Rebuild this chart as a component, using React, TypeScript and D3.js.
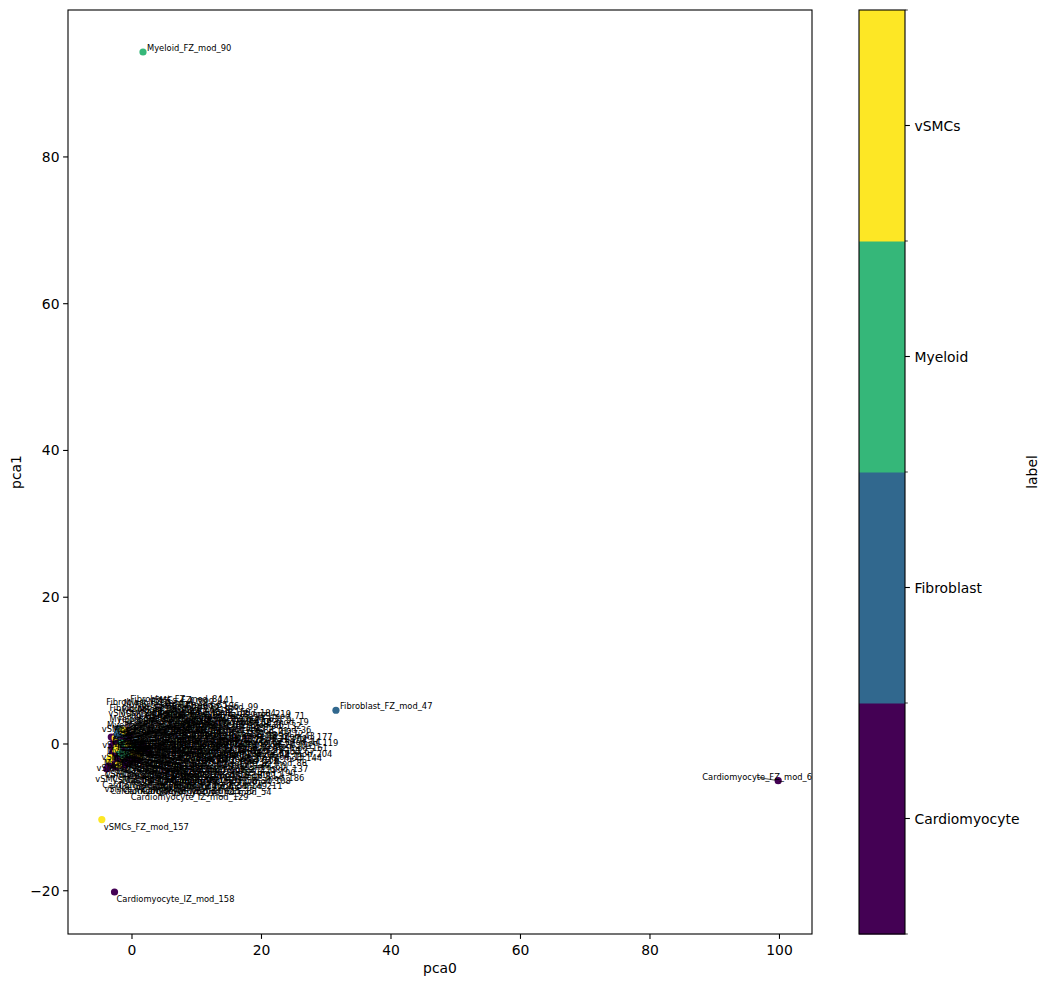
import React, { useMemo } from 'react';
import * as d3 from 'd3';

// ---------- data ----------
const categories = ['Cardiomyocyte', 'Fibroblast', 'Myeloid', 'vSMCs'];
const categoryColors = ['#440154', '#31688e', '#35b779', '#fde725'];

const moduleNames = [
  'Cardiomyocyte_FZ_mod_2', 'Cardiomyocyte_FZ_mod_5', 'Cardiomyocyte_FZ_mod_9', 'Cardiomyocyte_FZ_mod_12',
  'Cardiomyocyte_FZ_mod_15', 'Cardiomyocyte_FZ_mod_18', 'Cardiomyocyte_FZ_mod_21', 'Cardiomyocyte_FZ_mod_24',
  'Cardiomyocyte_FZ_mod_27', 'Cardiomyocyte_FZ_mod_30', 'Cardiomyocyte_FZ_mod_33', 'Cardiomyocyte_FZ_mod_36',
  'Cardiomyocyte_FZ_mod_41', 'Cardiomyocyte_FZ_mod_44', 'Cardiomyocyte_FZ_mod_50', 'Cardiomyocyte_FZ_mod_54',
  'Cardiomyocyte_FZ_mod_58', 'Cardiomyocyte_FZ_mod_63', 'Cardiomyocyte_FZ_mod_67', 'Cardiomyocyte_FZ_mod_71',
  'Cardiomyocyte_FZ_mod_77', 'Cardiomyocyte_FZ_mod_82', 'Cardiomyocyte_FZ_mod_86', 'Cardiomyocyte_FZ_mod_93',
  'Cardiomyocyte_FZ_mod_97', 'Cardiomyocyte_FZ_mod_101', 'Cardiomyocyte_FZ_mod_108', 'Cardiomyocyte_FZ_mod_115',
  'Cardiomyocyte_FZ_mod_119', 'Cardiomyocyte_FZ_mod_126', 'Cardiomyocyte_IZ_mod_3', 'Cardiomyocyte_IZ_mod_11',
  'Cardiomyocyte_IZ_mod_19', 'Cardiomyocyte_IZ_mod_26', 'Cardiomyocyte_IZ_mod_35', 'Cardiomyocyte_IZ_mod_43',
  'Cardiomyocyte_IZ_mod_52', 'Cardiomyocyte_IZ_mod_60', 'Cardiomyocyte_IZ_mod_68', 'Cardiomyocyte_IZ_mod_79',
  'Cardiomyocyte_IZ_mod_88', 'Cardiomyocyte_IZ_mod_95', 'Cardiomyocyte_IZ_mod_104', 'Cardiomyocyte_IZ_mod_112',
  'Cardiomyocyte_IZ_mod_129', 'Cardiomyocyte_IZ_mod_137', 'Cardiomyocyte_IZ_mod_146', 'Cardiomyocyte_IZ_mod_153',
  'Cardiomyocyte_IZ_mod_166', 'Cardiomyocyte_IZ_mod_177', 'Fibroblast_FZ_mod_4', 'Fibroblast_FZ_mod_13',
  'Fibroblast_FZ_mod_22', 'Fibroblast_FZ_mod_31', 'Fibroblast_FZ_mod_40', 'Fibroblast_FZ_mod_46',
  'Fibroblast_FZ_mod_55', 'Fibroblast_FZ_mod_62', 'Fibroblast_FZ_mod_73', 'Fibroblast_FZ_mod_84',
  'Fibroblast_FZ_mod_99', 'Fibroblast_FZ_mod_105', 'Fibroblast_FZ_mod_122', 'Fibroblast_FZ_mod_140',
  'Myeloid_FZ_mod_7', 'Myeloid_FZ_mod_16', 'Myeloid_FZ_mod_29', 'Myeloid_FZ_mod_38',
  'Myeloid_FZ_mod_49', 'Myeloid_FZ_mod_61', 'Myeloid_FZ_mod_75', 'Myeloid_FZ_mod_92',
  'Myeloid_FZ_mod_113', 'Myeloid_FZ_mod_131', 'vSMCs_FZ_mod_1', 'vSMCs_FZ_mod_8',
  'vSMCs_FZ_mod_17', 'vSMCs_FZ_mod_28', 'vSMCs_FZ_mod_39', 'vSMCs_FZ_mod_53',
  'vSMCs_FZ_mod_74', 'vSMCs_FZ_mod_85', 'vSMCs_FZ_mod_98', 'vSMCs_FZ_mod_110',
  'vSMCs_FZ_mod_133', 'vSMCs_FZ_mod_220',
  'Cardiomyocyte_FZ_mod_132', 'Cardiomyocyte_FZ_mod_138', 'Cardiomyocyte_FZ_mod_144', 'Cardiomyocyte_FZ_mod_149',
  'Cardiomyocyte_FZ_mod_155', 'Cardiomyocyte_FZ_mod_161', 'Cardiomyocyte_FZ_mod_168', 'Cardiomyocyte_FZ_mod_172',
  'Cardiomyocyte_FZ_mod_180', 'Cardiomyocyte_FZ_mod_186', 'Cardiomyocyte_FZ_mod_193', 'Cardiomyocyte_FZ_mod_199',
  'Cardiomyocyte_FZ_mod_204', 'Cardiomyocyte_FZ_mod_211', 'Cardiomyocyte_IZ_mod_184', 'Cardiomyocyte_IZ_mod_190',
  'Cardiomyocyte_IZ_mod_197', 'Cardiomyocyte_IZ_mod_203', 'Cardiomyocyte_IZ_mod_209', 'Cardiomyocyte_IZ_mod_215',
  'Fibroblast_FZ_mod_148', 'Fibroblast_FZ_mod_159', 'Fibroblast_FZ_mod_171', 'Fibroblast_FZ_mod_182',
  'Fibroblast_FZ_mod_195', 'Myeloid_FZ_mod_142', 'Myeloid_FZ_mod_151', 'Myeloid_FZ_mod_163',
  'Myeloid_FZ_mod_175', 'Myeloid_FZ_mod_188', 'vSMCs_FZ_mod_141', 'vSMCs_FZ_mod_150',
  'vSMCs_FZ_mod_162', 'vSMCs_FZ_mod_174', 'vSMCs_FZ_mod_187', 'vSMCs_FZ_mod_196',
  'vSMCs_FZ_mod_205', 'vSMCs_FZ_mod_212', 'Cardiomyocyte_IZ_mod_219', 'Myeloid_FZ_mod_201',
  'Myeloid_FZ_mod_90', 'Fibroblast_FZ_mod_47', 'Cardiomyocyte_FZ_mod_6', 'vSMCs_FZ_mod_157',
  'Cardiomyocyte_IZ_mod_158',
];

const pca0 = [
  -1.2, -0.8, -1.6, -2.1, -0.4, -1.9, -2.6, -1.0,
  0.3, -1.4, -3.0, -0.2, -1.7, 0.8, -2.3, -1.1,
  -0.6, -2.8, 1.4, -1.3, -3.5, -0.9, -2.0, 0.1,
  -3.2, -1.5, -0.3, -2.4, 2.1, -1.8, -1.1, -2.2,
  -0.7, -3.9, -1.6, 0.5, -2.7, -0.5, -1.4, -3.4,
  1.0, -2.0, -0.1, -1.2, -2.5, 0.4, -1.9, -0.8,
  -2.9, 1.7, -1.8, -1.6, -2.0, -1.5, -1.9, -1.2,
  -2.2, -1.7, -0.9, -2.1, -1.3, -1.0, 0.2, -1.4,
  -1.3, -1.7, -0.6, -1.6, -2.3, -1.0, -2.2, -0.4,
  -1.5, 0.0, -1.5, -0.8, -3.5, -1.9, -1.1, -2.5,
  -0.7, -1.6, -2.6, -0.2, -1.3, -0.9,
  -0.5, -2.4, 0.6, -1.0, -2.9, 1.2, -1.6, -0.3,
  -2.2, 0.9, -1.4, -3.1, 2.6, -0.7, -1.8, -0.2,
  -2.6, 0.7, -1.1, -3.6, -2.3, -1.1, -0.5, -1.9,
  0.5, -1.2, -2.0, 0.3, -0.9, -1.7, -1.4, -3.3,
  -0.6, -2.1, 0.2, -1.0, -2.4, 1.3, -0.4, -1.5,
  1.7, 31.5, 99.8, -4.66, -2.7,
];

const pca1 = [
  -0.4, -1.1, 0.3, -0.9, -0.6, -1.6, -0.2, 0.6,
  -0.9, -2.1, -1.2, 0.1, -0.1, -0.3, -2.6, -2.9,
  -1.8, 0.4, -1.0, 1.1, -2.4, -0.2, 0.9, -1.5,
  0.95, -1.2, -2.4, -1.4, -0.6, -0.7, -0.8, 0.2,
  0.4, -3.4, -2.6, -0.1, -1.8, -1.3, 0.0, -2.9,
  -1.7, -0.4, -0.3, -1.6, -3.1, -2.0, 0.6, -0.5,
  -0.6, -0.2, 1.8, 1.2, 0.5, 0.2, -0.3, -1.9,
  1.5, 0.9, 0.2, 2.1, 1.6, -0.9, -0.5, 0.7,
  0.4, -0.6, -0.2, 1.5, -0.8, -0.3, -1.2, -0.9,
  -0.9, -1.1, 1.2, -0.1, -2.2, -1.5, 0.9, -1.0,
  -0.8, -1.9, 0.8, -1.6, -0.1, 0.6,
  0.8, 0.1, -1.3, -2.3, -1.6, -0.7, 0.6, -0.2,
  -2.0, -2.2, -0.5, -0.3, -1.2, -2.7, 1.0, -1.9,
  -2.2, -0.6, 0.3, -3.0, 1.2, 1.3, -0.7, 1.4,
  0.3, 0.0, -1.0, -0.4, -1.4, 0.2, 1.9, -1.9,
  0.0, -2.8, -1.2, 1.7, -0.5, -1.5, 1.2, -1.5,
  94.3, 4.6, -5.0, -10.3, -20.17,
];

const xTicks = [0, 20, 40, 60, 80, 100];
const yTicks = [-20, 0, 20, 40, 60, 80];

// ---------- layout constants ----------
const W = 1049;
const H = 987;
const L = 68, R = 812, T = 10, B = 934;
const CB_L = 859, CB_R = 905;
const FONT = '"DejaVu Sans", "Liberation Sans", sans-serif';
const TICK_FS = 13.9;
const LABEL_FS = 8.33;

function measureWidths(texts: string[], size: number): number[] {
  const canvas = document.createElement('canvas');
  const ctx = canvas.getContext('2d');
  if (!ctx) return texts.map((t) => t.length * size * 0.6);
  ctx.font = `${size}px "DejaVu Sans"`;
  return texts.map((t) => ctx.measureText(t).width);
}

export default function App() {
  const pad = (lo: number, hi: number) => {
    const m = (hi - lo) * 0.05;
    return [lo - m, hi + m];
  };
  const x = d3.scaleLinear().domain(pad(d3.min(pca0)!, d3.max(pca0)!)).range([L, R]);
  const y = d3.scaleLinear().domain(pad(d3.min(pca1)!, d3.max(pca1)!)).range([B, T]);

  const points = moduleNames.map((name, i) => {
    const cat = categories.findIndex((c) => name.startsWith(c + '_'));
    return { name, cat, px: x(pca0[i]), py: y(pca1[i]) };
  });

  const labels = useMemo(() => {
    const widths = measureWidths(moduleNames, LABEL_FS);
    const cx0 = d3.median(points, (p) => p.px)!;
    const cy0 = d3.median(points, (p) => p.py)!;
    const kx = 2.5;
    const nodes = points.map((p, i) => {
      const dx = p.px - cx0;
      const dy = p.py - cy0;
      const below = dy > 0 && Math.abs(dy) > Math.abs(dx) * 0.8;
      const w = widths[i];
      const baseline = below ? p.py + 10 : p.py - 1;
      const acx = p.px + (below ? 2 : 4) + w / 2;
      const acy = baseline - 2.4;
      return { i, w, minLeft: p.px - 14, x: acx / kx, y: acy, ax: acx / kx, ay: acy } as any;
    });
    const leftBound = () => {
      for (const n of nodes) {
        const left = n.x * kx - n.w / 2;
        if (left < n.minLeft) n.vx += ((n.minLeft - left) / kx) * 0.6;
      }
    };
    const sim = d3
      .forceSimulation(nodes)
      .force('x', d3.forceX((d: any) => d.ax).strength(0.05))
      .force('y', d3.forceY((d: any) => d.ay).strength(0.05))
      .force('c', d3.forceCollide(3.1).strength(0.7).iterations(2))
      .force('lb', leftBound as any)
      .stop();
    for (let k = 0; k < 300; k++) sim.tick();
    return nodes.map((n: any) => {
      const w = n.w;
      let left = n.x * kx - w / 2;
      let baseline = n.y + 2.4;
      const moved0 = Math.hypot((n.x - n.ax) * kx, n.y - n.ay);
      left = Math.max(L, Math.min(R - w, left));
      baseline = Math.max(T + 7, Math.min(B - 2, baseline));
      const moved = Math.hypot(left + w / 2 - n.ax * kx, baseline - 2.4 - n.ay);
      return { left, baseline, w, moved: Math.max(moved, moved0) };
    });
  }, []);

  // connector line from label to point (only for labels that were displaced)
  const connectors = points.map((p, i) => {
    const lb = labels[i];
    if (lb.moved < 3) return null;
    const bx0 = lb.left, bx1 = lb.left + lb.w;
    const by0 = lb.baseline - 6.5, by1 = lb.baseline + 1.8;
    const cx = (bx0 + bx1) / 2, cy = (by0 + by1) / 2;
    const inside = p.px >= bx0 && p.px <= bx1 && p.py >= by0 && p.py <= by1;
    const dx = p.px - cx, dy = p.py - cy;
    let sx = cx, sy = cy;
    if (!inside) {
      let t = 1;
      if (dx !== 0) t = Math.min(t, ((dx > 0 ? bx1 : bx0) - cx) / dx);
      if (dy !== 0) t = Math.min(t, ((dy > 0 ? by1 : by0) - cy) / dy);
      sx = cx + dx * t;
      sy = cy + dy * t;
    }
    const len = Math.hypot(p.px - sx, p.py - sy);
    if (len < 4) return null;
    const shrink = 2.8 / len;
    return { x1: sx, y1: sy, x2: p.px - (p.px - sx) * shrink, y2: p.py - (p.py - sy) * shrink };
  });

  const segH = (B - T) / categories.length;

  return (
    <svg
      width={W}
      height={H}
      style={{ position: 'absolute', left: 0, top: 0, background: '#fff' }}
      fontFamily={FONT}
    >
      <rect x={0} y={0} width={W} height={H} fill="#fff" />
      {/* points */}
      <g>
        {points.map((p, i) => (
          <circle key={i} cx={p.px} cy={p.py} r={3.6} fill={categoryColors[p.cat]} />
        ))}
      </g>
      {/* connectors + labels */}
      <g>
        {points.map((p, i) => {
          const c = connectors[i];
          const lb = labels[i];
          return (
            <g key={i}>
              {c && (
                <line x1={c.x1} y1={c.y1} x2={c.x2} y2={c.y2} stroke="#000" strokeWidth={0.7} />
              )}
              <text x={lb.left} y={lb.baseline} fontSize={LABEL_FS} fill="#000">
                {p.name}
              </text>
            </g>
          );
        })}
      </g>
      {/* frame */}
      <rect x={L} y={T} width={R - L} height={B - T} fill="none" stroke="#000" strokeWidth={1.1} />
      {/* x ticks */}
      {xTicks.map((t) => (
        <g key={'x' + t} transform={`translate(${x(t)},${B})`}>
          <line y1={0} y2={4.9} stroke="#000" strokeWidth={1.1} />
          <text y={21} textAnchor="middle" fontSize={TICK_FS} fill="#000">
            {t < 0 ? '\u2212' + Math.abs(t) : t}
          </text>
        </g>
      ))}
      {/* y ticks */}
      {yTicks.map((t) => (
        <g key={'y' + t} transform={`translate(${L},${y(t)})`}>
          <line x1={0} x2={-4.9} stroke="#000" strokeWidth={1.1} />
          <text x={-8.5} dy="0.36em" textAnchor="end" fontSize={TICK_FS} fill="#000">
            {t < 0 ? '\u2212' + Math.abs(t) : t}
          </text>
        </g>
      ))}
      <text x={(L + R) / 2} y={973} textAnchor="middle" fontSize={TICK_FS} fill="#000">
        pca0
      </text>
      <text transform={`translate(21,${(T + B) / 2}) rotate(-90)`} textAnchor="middle" fontSize={TICK_FS} fill="#000">
        pca1
      </text>
      {/* colorbar */}
      {categories.map((c, i) => (
        <rect
          key={c}
          x={CB_L}
          y={B - (i + 1) * segH}
          width={CB_R - CB_L}
          height={segH + 0.5}
          fill={categoryColors[i]}
        />
      ))}
      <rect x={CB_L} y={T} width={CB_R - CB_L} height={B - T} fill="none" stroke="#000" strokeWidth={1.1} />
      {categories.map((c, i) => {
        const yy = B - (i + 0.5) * segH;
        return (
          <g key={'cb' + c}>
            <line x1={CB_R} x2={CB_R + 4.9} y1={yy} y2={yy} stroke="#000" strokeWidth={1.1} />
            <text x={CB_R + 9.5} y={yy} dy="0.36em" fontSize={TICK_FS} fill="#000">
              {c}
            </text>
          </g>
        );
      })}
      {d3.range(categories.length + 1).map((i) => {
        const yy = B - i * segH;
        return <line key={'mb' + i} x1={CB_R} x2={CB_R + 2.8} y1={yy} y2={yy} stroke="#000" strokeWidth={0.8} />;
      })}
      <text transform={`translate(1037,${(T + B) / 2}) rotate(-90)`} textAnchor="middle" fontSize={TICK_FS} fill="#000">
        label
      </text>
    </svg>
  );
}
